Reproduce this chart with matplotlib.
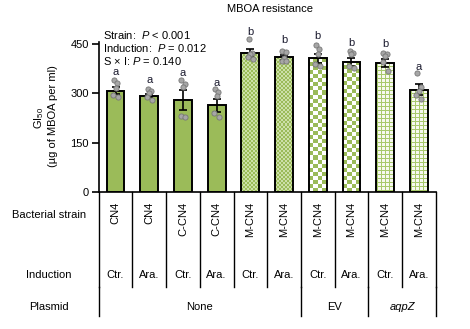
import numpy as np
import matplotlib
matplotlib.use("Agg")
import matplotlib.pyplot as plt
from matplotlib import transforms

plt.rcParams['font.family'] = ['Liberation Sans', 'DejaVu Sans']
plt.rcParams['mathtext.fontset'] = 'custom'
plt.rcParams['mathtext.rm'] = 'Liberation Sans'
plt.rcParams['mathtext.it'] = 'Liberation Sans:italic'

strains = ["CN4", "CN4", "C-CN4", "C-CN4", "M-CN4", "M-CN4", "M-CN4", "M-CN4", "M-CN4", "M-CN4"]
induction = ["Ctr.", "Ara.", "Ctr.", "Ara.", "Ctr.", "Ara.", "Ctr.", "Ara.", "Ctr.", "Ara."]
plasmid_groups = ["None", "EV", "aqpZ"]
plasmid_spans = [(0, 6), (6, 8), (8, 10)]
means = [308, 293, 279, 264, 423, 409, 406, 396, 392, 311]
errs = [10, 5, 30, 20, 12, 7, 15, 12, 12, 17]
points = [
    [340, 330, 315, 295, 290],
    [312, 308, 302, 290, 280],
    [340, 328, 318, 231, 227],
    [312, 304, 292, 239, 229],
    [465, 423, 419, 409, 403],
    [429, 425, 406, 399, 398],
    [447, 434, 421, 389, 383],
    [428, 423, 421, 383, 376],
    [423, 419, 413, 396, 369],
    [361, 318, 308, 295, 283],
]
letters = ["a", "a", "a", "a", "b", "b", "b", "b", "b", "a"]
letter_y = [366, 340, 362, 332, 487, 462, 474, 454, 451, 381]
patterns = ["solid"] * 4 + ["fine"] * 2 + ["checker"] * 2 + ["grid"] * 2
yticks = [0, 150, 300, 450]

FS = 8
GREEN = "#9bbb59"
W, H = 470, 329
fig = plt.figure(figsize=(W / 100, H / 100), dpi=100)
ax_left, ax_right = 98.7 / W, 435.7 / W
ax_bot, ax_top = 1 - 192 / H, 1 - 41.7 / H
ax = fig.add_axes([ax_left, ax_bot, ax_right - ax_left, ax_top - ax_bot])
ax.set_xlim(-0.5, 9.5)
ax.set_ylim(0, 457)

x = np.arange(len(means))
bw = 0.53
px_x = 33.7  # px per category
px_y = (192 - 41.7) / 457  # px per unit

for i, (m, pat) in enumerate(zip(means, patterns)):
    if pat == "solid":
        ax.bar(x[i], m, bw, color=GREEN, edgecolor="black", linewidth=1.4, zorder=2)
        continue
    bar = ax.bar(x[i], m, bw, color="white", edgecolor="none", linewidth=0, zorder=1)[0]
    wpx = bw * px_x
    hpx = m * px_y
    g = np.array(matplotlib.colors.to_rgb(GREEN))
    if pat in ("fine", "checker"):
        c = 2.0 if pat == "fine" else 4.0
        nx = max(1, int(round(wpx / c)))
        ny = max(1, int(round(hpx / c)))
        jj, ii = np.meshgrid(np.arange(nx), np.arange(ny))
        chk = (ii + jj) % 2
        col2 = np.array([0.80, 0.88, 0.66]) if pat == "fine" else np.array([1.0, 1.0, 1.0])
        img = np.where(chk[..., None] == 1, g, col2)
    else:
        nx = int(round(wpx))
        ny = int(round(hpx))
        jj, ii = np.meshgrid(np.arange(nx), np.arange(ny))
        line = (jj % 4 == 1) | (ii % 4 == 1)
        gl = np.array([0.66, 0.79, 0.42])
        img = np.where(line[..., None], gl, np.array([0.97, 0.98, 0.94]))
    im = ax.imshow(img, extent=(x[i] - bw / 2, x[i] + bw / 2, 0, m), origin="lower",
                   aspect="auto", interpolation="nearest", zorder=1.5)
    im.set_clip_path(bar)
    ax.bar(x[i], m, bw, fill=False, edgecolor="black", linewidth=1.4, zorder=2)

ax.set_xlim(-0.5, 9.5)
ax.set_ylim(0, 457)

ax.errorbar(x, means, yerr=errs, fmt="none", ecolor="black", elinewidth=1.2,
            capsize=3.2, capthick=1.2, zorder=3)

offsets = [-0.05, 0.05, 0.0, -0.07, 0.07]
for i, pts in enumerate(points):
    for k, v in enumerate(pts):
        ax.scatter(x[i] + offsets[k % len(offsets)], v, s=14, facecolor="#a6a6a6",
                   edgecolor="#777777", linewidth=0.6, zorder=4, clip_on=False)

for i, (l, ly) in enumerate(zip(letters, letter_y)):
    ax.text(x[i], ly, l, ha="center", va="center", fontsize=FS, clip_on=False,
            color="#1a1a2e")

for s in ["top", "right"]:
    ax.spines[s].set_visible(False)
ax.spines["left"].set_linewidth(1.2)
ax.spines["bottom"].set_linewidth(1.2)
ax.set_yticks(yticks)
ax.tick_params(axis="y", length=5, width=1.2, labelsize=FS, pad=2)
ax.set_xticks([])

fig.text(270 / W, 1 - 9 / H, "MBOA resistance", ha="center", va="center", fontsize=FS)

stats = ["Strain:  $\\it{P}$ < 0.001", "Induction:  $\\it{P}$ = 0.012", "S × I: $\\it{P}$ = 0.140"]
for k, s in enumerate(stats):
    fig.text(103 / W, 1 - (35 + 13 * k) / H, s, ha="left", va="center", fontsize=FS)

fig.text(39 / W, 1 - 118 / H, "GI$_{50}$", rotation=90, ha="center", va="center", fontsize=FS)
fig.text(53 / W, 1 - 116 / H, "(µg of MBOA per ml)", rotation=90, ha="center", va="center", fontsize=FS)

# table below axis
tr = transforms.blended_transform_factory(ax.transData, fig.transFigure)
y_axis_fig = ax_bot
y_row_end = 1 - 287 / H
y_pl_end = 1 - 316 / H
for b in np.arange(-0.5, 10.0, 1.0):
    ax.plot([b, b], [y_axis_fig, y_row_end], transform=tr, color="black", lw=1.0, clip_on=False)
for b in [-0.5, 5.5, 7.5, 9.5]:
    ax.plot([b, b], [y_row_end, y_pl_end], transform=tr, color="black", lw=1.0, clip_on=False)

for i, s in enumerate(strains):
    ax.text(x[i], 1 - 202 / H, s, transform=tr, rotation=90, ha="center", va="top", fontsize=FS)
for i, s in enumerate(induction):
    ax.text(x[i], 1 - 275 / H, s, transform=tr, ha="center", va="center", fontsize=FS)
for name, (a, b) in zip(plasmid_groups, plasmid_spans):
    ax.text((a + b - 1) / 2, 1 - 307 / H, name, transform=tr, ha="center", va="center",
            fontsize=FS, style="italic" if name == "aqpZ" else "normal")

fig.text(49 / W, 1 - 215 / H, "Bacterial strain", ha="center", va="center", fontsize=FS)
fig.text(49 / W, 1 - 275 / H, "Induction", ha="center", va="center", fontsize=FS)
fig.text(49 / W, 1 - 307 / H, "Plasmid", ha="center", va="center", fontsize=FS)

fig.savefig("out.png", dpi=100)
